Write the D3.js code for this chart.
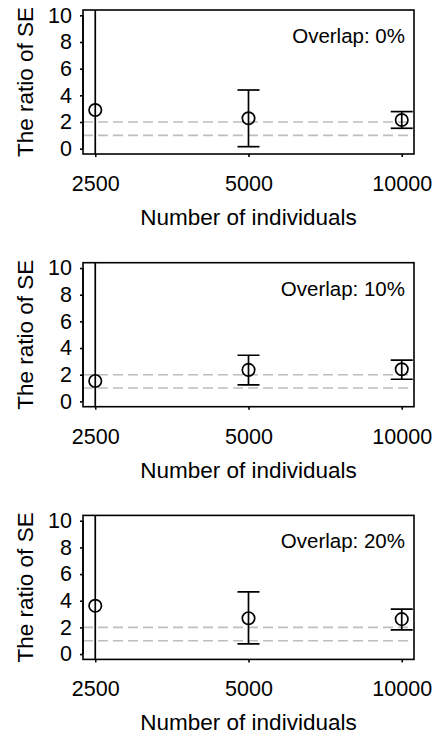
<!DOCTYPE html>
<html>
<head>
<meta charset="utf-8">
<script src="https://cdn.jsdelivr.net/npm/d3@7"></script>
<style>
  body { margin: 0; background: white; }
  text { font-family: "Liberation Sans", Arial, sans-serif; fill: black; }
</style>
</head>
<body>
<div id="chart"></div>
<script>
// sample sizes on x axis
const sizes = ["2500", "5000", "10000"];
const yTicks = [0, 2, 4, 6, 8, 10];
const refLines = [1, 2];
const overlaps = ["Overlap: 0%", "Overlap: 10%", "Overlap: 20%"];

// ratio of SE (point) and interval ends, one array per panel
// the 2500 interval runs off the plot in every panel
const mean0 = [2.9, 2.28, 2.15];
const lower0 = [-1, 0.15, 1.53];
const upper0 = [11, 4.4, 2.78];

const mean10 = [1.53, 2.36, 2.41];
const lower10 = [-1, 1.23, 1.66];
const upper10 = [11, 3.46, 3.1];

const mean20 = [3.62, 2.69, 2.62];
const lower20 = [-1, 0.77, 1.82];
const upper20 = [11, 4.67, 3.37];

const panels = [
  { label: overlaps[0], mean: mean0, lower: lower0, upper: upper0 },
  { label: overlaps[1], mean: mean10, lower: lower10, upper: upper10 },
  { label: overlaps[2], mean: mean20, lower: lower20, upper: upper20 }
];

const W = 435, H = 736;
const margin = { top: 10, left: 83, right: 21 };
const boxH = 144, panelStep = 252.7;
const width = W - margin.left - margin.right;

const svg = d3.select("#chart").append("svg")
  .attr("width", W).attr("height", H);

const x = d3.scaleLinear().domain([-0.08, 2.08]).range([0, width]);
const y = d3.scaleLinear().domain([-0.4, 10.4]).range([boxH, 0]);

panels.forEach((p, k) => {
  const g = svg.append("g")
    .attr("transform", "translate(" + margin.left + "," + (margin.top + k * panelStep) + ")");

  g.append("clipPath").attr("id", "clip" + k)
    .append("rect").attr("width", width).attr("height", boxH);

  const inner = g.append("g").attr("clip-path", "url(#clip" + k + ")");

  // reference lines at 1 and 2
  inner.selectAll(".ref").data(refLines).join("line")
    .attr("x1", 0).attr("x2", width)
    .attr("y1", d => y(d)).attr("y2", d => y(d))
    .attr("stroke", "#bebebe").attr("stroke-width", 1.6)
    .attr("stroke-dasharray", "10,5");

  const pts = sizes.map((s, i) => ({ i, m: p.mean[i], lo: p.lower[i], hi: p.upper[i] }));

  inner.selectAll(".bar").data(pts).join("line")
    .attr("x1", d => x(d.i)).attr("x2", d => x(d.i))
    .attr("y1", d => y(d.lo)).attr("y2", d => y(d.hi))
    .attr("stroke", "black").attr("stroke-width", 1.7);

  ["lo", "hi"].forEach(key => {
    inner.selectAll(".cap-" + key).data(pts).join("line")
      .attr("x1", d => x(d.i) - 11).attr("x2", d => x(d.i) + 11)
      .attr("y1", d => y(d[key])).attr("y2", d => y(d[key]))
      .attr("stroke", "black").attr("stroke-width", 1.7);
  });

  inner.selectAll("circle").data(pts).join("circle")
    .attr("cx", d => x(d.i)).attr("cy", d => y(d.m))
    .attr("r", 6.2)
    .attr("fill", "none").attr("stroke", "black").attr("stroke-width", 1.7);

  // box
  g.append("rect")
    .attr("width", width).attr("height", boxH)
    .attr("fill", "none").attr("stroke", "black").attr("stroke-width", 1.6);

  // y axis
  const yAxis = d3.axisLeft(y).tickValues(yTicks).tickSize(3).tickPadding(8);
  const ya = g.append("g").call(yAxis);
  ya.select(".domain").attr("d", "M-0," + y(10) + "V" + y(0)).attr("stroke-width", 1.6);
  ya.selectAll(".tick line").attr("stroke-width", 1.6);
  ya.selectAll("text").style("font-size", "21.5px").style("font-family", "Liberation Sans, Arial, sans-serif");

  // x axis
  const xAxis = d3.axisBottom(x).tickValues([0, 1, 2]).tickFormat(i => sizes[i]).tickSize(3).tickPadding(0);
  const xa = g.append("g").attr("transform", "translate(0," + boxH + ")").call(xAxis);
  xa.select(".domain").remove();
  xa.selectAll(".tick line").attr("stroke-width", 1.6);
  xa.selectAll("text").attr("dy", null).attr("y", 37)
    .style("font-size", "21.5px").style("font-family", "Liberation Sans, Arial, sans-serif");

  g.append("text")
    .attr("x", width / 2).attr("y", boxH + 71)
    .attr("text-anchor", "middle")
    .style("font-size", "22.5px")
    .text("Number of individuals");

  g.append("text")
    .attr("transform", "translate(" + (-50) + "," + (boxH / 2) + ") rotate(-90)")
    .attr("text-anchor", "middle")
    .style("font-size", "22.5px")
    .text("The ratio of SE");

  g.append("text")
    .attr("x", width - 9).attr("y", 33)
    .attr("text-anchor", "end")
    .style("font-size", "20.5px")
    .text(p.label);
});
</script>
</body>
</html>
